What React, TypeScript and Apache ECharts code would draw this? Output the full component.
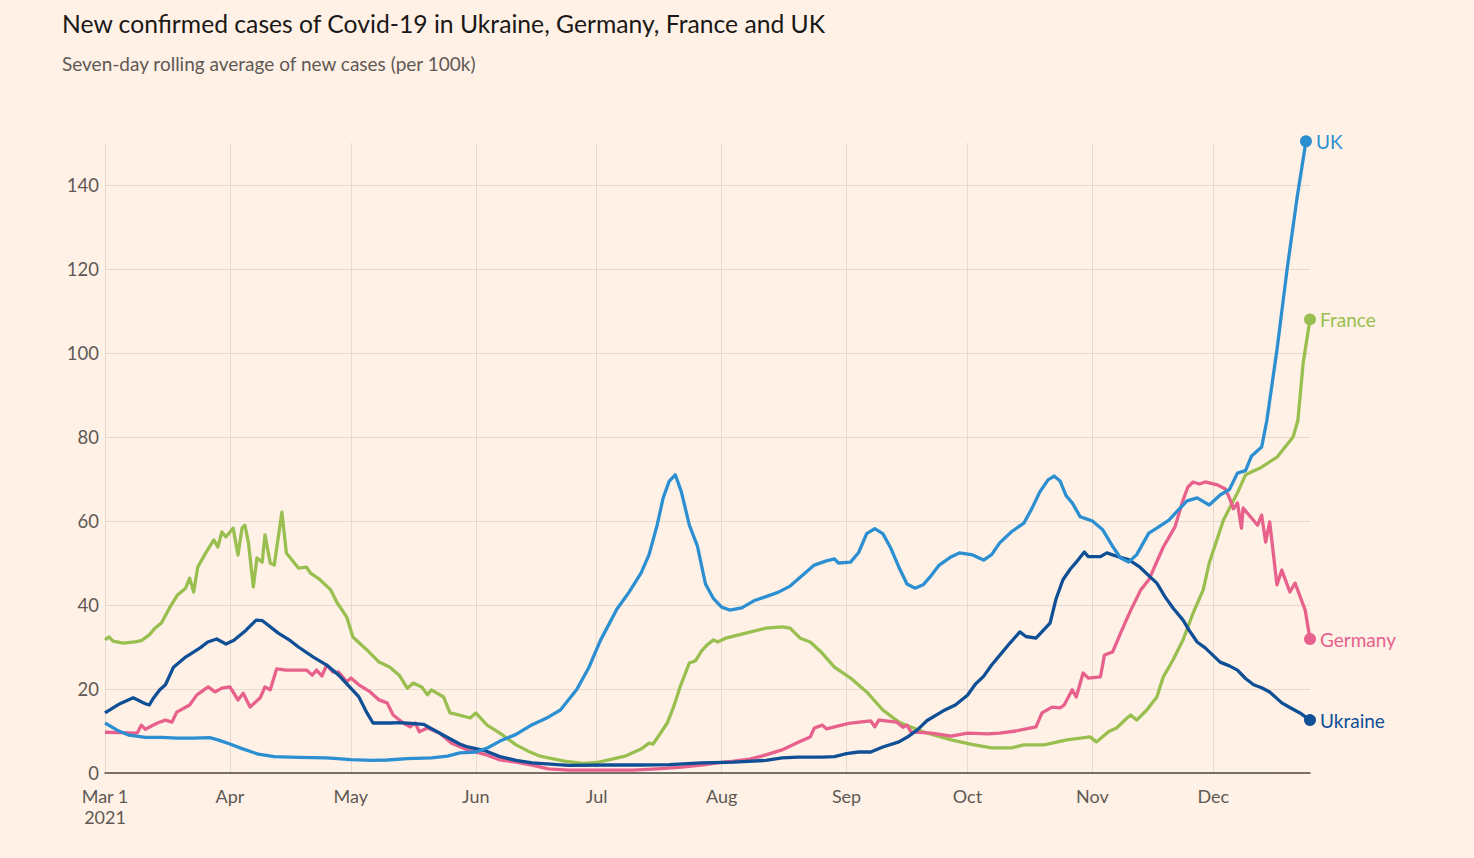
import React, { useEffect, useRef } from "react";
import * as echarts from "echarts";

// Day offsets are counted from 1 March 2021.
const monthDays = [0, 31, 61, 92, 122, 153, 184, 214, 245, 275];
const monthLabels = ["Mar 1\n2021", "Apr", "May", "Jun", "Jul", "Aug", "Sep", "Oct", "Nov", "Dec"];
const yTicks = [0, 20, 40, 60, 80, 100, 120, 140];

const ukraine: [number, number][] = [
  [0, 14.3], [3.7, 16.5], [7, 17.9], [10, 16.5], [11, 16.2], [12, 17.8], [13.6, 19.8], [15, 21.0], [17, 25.2],
  [20, 27.6], [23.6, 29.8], [25.5, 31.2], [27.7, 31.9], [30, 30.7], [32, 31.6], [35, 34.0], [37.5, 36.4], [39, 36.3],
  [43, 33.3], [46, 31.5], [48, 30.0], [51.7, 27.6], [55, 25.7], [58, 23.3], [60, 21.2], [63, 18.1], [65, 14.3],
  [66.5, 11.9], [70.7, 11.9], [73, 12.0], [76, 11.8], [79, 11.6], [84, 9.0], [88, 6.9], [90, 6.2], [94, 5.4],
  [98, 3.9], [102, 3.0], [106, 2.4], [115, 1.8], [125, 1.9], [133, 1.9], [140, 2.0], [148, 2.4], [156, 2.6],
  [164, 3.0], [168, 3.6], [172, 3.8], [178, 3.8], [181, 3.9], [184, 4.6], [187, 5.0], [190, 5.0], [193, 6.2],
  [197, 7.4], [199, 8.5], [201.5, 10.2], [204, 12.5], [208, 14.8], [211, 16.2], [214, 18.5], [216, 21.2], [218, 23.0],
  [220, 25.7], [222, 28.0], [224.6, 31.0], [226, 32.5], [227, 33.6], [228.5, 32.5], [231, 32.1], [234.5, 35.7],
  [236, 41.5], [237.7, 46.0], [239.5, 48.5], [241, 50.2], [243, 52.6], [244, 51.5], [247, 51.5], [248.6, 52.4],
  [251, 51.6], [254, 50.8], [256.8, 49.0], [259, 47.0], [261, 45.2], [263, 42.0], [265, 39.3], [267.5, 36.4],
  [269, 34.0], [271, 31.2], [273, 29.8], [276.7, 26.4], [279, 25.5], [281, 24.5], [283, 22.5], [285, 21.0],
  [287, 20.3], [289, 19.3], [292, 16.7], [294, 15.6], [296.5, 14.3], [299, 12.6],
];

const germany: [number, number][] = [
  [0, 9.7], [4, 9.6], [8, 9.5], [9, 11.4], [10, 10.4], [13, 11.9], [15, 12.6], [16.6, 12.1], [17.8, 14.5], [21, 16.2],
  [22.8, 18.6], [25.6, 20.5], [27.3, 19.3], [29, 20.2], [31, 20.5], [33, 17.4], [34.3, 19.0], [36, 15.7], [38.5, 17.9],
  [39.7, 20.5], [41, 19.8], [42.6, 24.8], [45, 24.5], [50, 24.5], [51.4, 23.3], [52.5, 24.5], [53.8, 23.1], [55, 25.7],
  [56.6, 24.0], [58, 24.0], [60, 21.7], [61, 22.6], [63, 21.0], [65.8, 19.3], [68, 17.4], [70, 16.7], [71.5, 13.8],
  [74, 11.9], [75.7, 11.0], [77, 11.9], [78, 9.8], [80, 10.7], [83, 9.5], [86, 7.1], [90, 5.5], [94.7, 4.3], [98, 3.1],
  [102, 2.6], [106, 1.9], [110, 1.0], [115, 0.7], [125, 0.7], [131, 0.7], [137, 1.0], [143, 1.4], [148, 1.9],
  [152, 2.4], [156, 2.8], [160, 3.3], [164, 4.3], [168, 5.5], [172, 7.3], [175, 8.6], [176, 10.7], [178, 11.4],
  [179, 10.5], [182, 11.2], [185, 11.9], [190, 12.4], [191, 11.0], [192, 12.6], [196.5, 12.1], [198, 10.9],
  [199, 11.4], [200, 9.8], [205, 9.5], [210, 8.8], [214, 9.5], [219, 9.3], [222, 9.5], [226, 10.0], [231, 11.0],
  [232.5, 14.3], [235, 15.7], [237, 15.5], [238, 16.2], [240, 19.8], [241, 18.1], [242.7, 23.8], [244, 22.6],
  [247, 22.9], [248, 28.1], [250, 28.8], [252, 33.3], [254.3, 38.3], [257, 43.6], [259, 46.0], [262.6, 53.8],
  [265.5, 58.6], [267.5, 65.0], [268.7, 68.1], [270, 69.3], [271.5, 68.8], [273, 69.3], [276, 68.6], [278, 67.6],
  [279, 65.5], [280, 62.9], [281, 64.3], [282, 58.3], [282.4, 63.1], [286, 59.0], [287, 61.4], [288, 55.0],
  [289, 59.8], [290.8, 44.8], [292, 48.3], [294, 43.1], [295.3, 45.2], [297.8, 38.8], [299, 31.9],
];

const france: [number, number][] = [
  [0, 31.7], [1, 32.4], [2, 31.4], [4.5, 30.9], [7.4, 31.2], [9, 31.5], [11, 32.9], [12.4, 34.5], [14, 35.7],
  [16, 39.3], [18, 42.4], [20, 44.0], [21, 46.4], [22, 43.1], [23, 49.0], [25, 52.4], [27, 55.5], [28, 53.8],
  [29, 57.4], [30, 56.2], [31.8, 58.3], [33, 51.9], [34, 58.3], [34.7, 59.0], [35.6, 54.8], [36.8, 44.3],
  [37.7, 51.2], [39, 50.2], [39.7, 56.7], [41, 50.0], [42, 49.5], [43.9, 62.1], [45, 52.4], [48, 48.8], [50, 49.0],
  [51, 47.6], [53, 46.3], [56, 43.6], [57.5, 40.7], [60, 37.1], [61.5, 32.4], [65, 29.3], [68, 26.4], [70.7, 25.2],
  [73, 23.3], [75, 20.2], [76.5, 21.4], [78.6, 20.5], [80, 18.6], [81, 19.8], [84, 18.1], [85.6, 14.3], [87, 14.0],
  [90.6, 13.1], [92, 14.3], [94.8, 11.4], [98, 9.5], [102, 6.7], [105, 5.2], [108, 4.0], [110, 3.6], [114, 2.8],
  [118.6, 2.3], [122, 2.5], [125, 3.1], [129, 4.0], [133, 5.7], [135, 7.1], [136, 6.9], [137.5, 9.0], [139.5, 11.9],
  [141, 15.5], [142.7, 20.5], [145, 26.2], [146.5, 26.7], [148, 29.0], [149.4, 30.5], [151, 31.7], [152, 31.2],
  [154, 32.1], [159, 33.3], [164, 34.5], [168, 34.8], [170, 34.5], [172.5, 32.1], [175, 31.2], [178, 28.5],
  [181, 25.2], [185, 22.6], [189, 19.3], [193, 15.0], [197, 12.1], [203, 9.8], [210, 7.9], [215, 6.8], [220, 6.0],
  [225, 6.0], [228, 6.7], [233, 6.7], [238.7, 7.9], [244.4, 8.6], [246, 7.4], [249, 9.8], [251, 10.7], [253.6, 13.1],
  [254.5, 13.8], [256, 12.6], [258.5, 15.0], [261, 18.1], [262.6, 22.9], [265, 26.9], [267.5, 31.7], [270, 38.1],
  [272.5, 43.6], [274, 50.0], [277.5, 60.2], [281, 66.7], [283, 71.0], [286.6, 72.6], [290.8, 75.2], [294.8, 80.0],
  [296, 84.0], [297.3, 97.6], [299, 108.0],
];

const uk: [number, number][] = [
  [0, 11.9], [3, 10.2], [6, 9.0], [10, 8.5], [14, 8.5], [18, 8.3], [22, 8.3], [26, 8.4], [28, 7.9], [31, 6.9],
  [34, 5.8], [38, 4.5], [42, 3.9], [48, 3.7], [55, 3.6], [61, 3.2], [66, 3.0], [70, 3.1], [75, 3.4], [81, 3.6],
  [85, 4.0], [88, 4.8], [92, 5.0], [95, 6.0], [98, 7.6], [102, 9.2], [106, 11.5], [110, 13.3], [113, 15.0],
  [117, 19.8], [120, 25.0], [123, 31.7], [127, 39.0], [130, 43.0], [133, 47.6], [135, 52.0], [137, 59.0],
  [138.5, 65.5], [140, 69.5], [141.5, 71.0], [143, 67.0], [145, 59.0], [147, 54.0], [149, 45.0], [151, 41.5],
  [153, 39.5], [155, 38.8], [158, 39.3], [161, 41.0], [164, 42.0], [167, 43.0], [170, 44.5], [173, 47.0],
  [176, 49.5], [179, 50.5], [181, 51.0], [182, 50.0], [185, 50.2], [187, 52.5], [189, 57.0], [191, 58.2],
  [193, 57.0], [195, 53.5], [197, 49.0], [199, 45.0], [201, 44.0], [203, 44.8], [205, 47.0], [207, 49.5],
  [210, 51.5], [212, 52.4], [215, 52.0], [218, 50.7], [220, 52.0], [222, 54.8], [225, 57.5], [228, 59.5],
  [230, 63.0], [232, 67.0], [234, 69.8], [235.5, 70.7], [237, 69.5], [238.5, 66.0], [240, 64.3], [242, 61.0],
  [243.5, 60.5], [245, 60.0], [247.5, 58.0], [250, 54.0], [252, 51.2], [254, 50.2], [256, 52.0], [259, 57.1],
  [261, 58.3], [264, 60.2], [266, 62.3], [268.5, 64.8], [271, 65.5], [274, 63.8], [276.7, 66.2], [279, 67.5],
  [281, 71.4], [283, 72.0], [284.5, 75.5], [287, 77.6], [288.3, 84.0], [290.8, 100.7], [293.3, 119.8],
  [295.8, 137.0], [298, 150.4],
];

const seriesDefs = [
  { name: "France", data: france, color: "#98bf4f" },
  { name: "Germany", data: germany, color: "#e8608c" },
  { name: "Ukraine", data: ukraine, color: "#0f4f96" },
  { name: "UK", data: uk, color: "#2b8fd2" },
];

const FONT = "Lato, 'Noto Sans', sans-serif";

export default function App() {
  const ref = useRef<HTMLDivElement>(null);

  useEffect(() => {
    document.body.style.margin = "0";
    const chart = echarts.init(ref.current!, null, { renderer: "svg" });
    const option: any = {
      animation: false,
      backgroundColor: "#fff1e5",
      textStyle: { fontFamily: FONT },
      graphic: [
        {
          type: "text",
          left: 62,
          top: 11,
          style: {
            text: "New confirmed cases of Covid-19 in Ukraine, Germany, France and UK",
            fontSize: 24.7,
            fontFamily: FONT,
            fill: "#1a1817",
          },
        },
        {
          type: "text",
          left: 62,
          top: 54,
          style: {
            text: "Seven-day rolling average of new cases (per 100k)",
            fontSize: 19,
            fontFamily: FONT,
            fill: "#5f5955",
          },
        },
      ],
      grid: { left: 105, right: 164, top: 143, bottom: 85, containLabel: false },
      xAxis: {
        type: "value",
        min: 0,
        max: 299,
        axisLine: { show: true, lineStyle: { color: "#4d4845", width: 1.5 } },
        axisTick: { show: false, customValues: monthDays },
        axisLabel: {
          customValues: monthDays,
          color: "#5f5955",
          fontSize: 18,
          fontFamily: FONT,
          lineHeight: 21,
          margin: 12,
          formatter: (v: number) => {
            const i = monthDays.indexOf(Math.round(v));
            return i >= 0 ? monthLabels[i] : "";
          },
        },
        splitLine: { show: true, lineStyle: { color: "#e6d9ce", width: 1 } },
      },
      yAxis: {
        type: "value",
        min: 0,
        max: 150,
        axisLine: { show: false },
        axisTick: { show: false, customValues: yTicks },
        axisLabel: {
          customValues: yTicks,
          color: "#5f5955",
          fontSize: 18.5,
          fontFamily: FONT,
          margin: 6,
        },
        splitLine: { show: true, lineStyle: { color: "#e6d9ce", width: 1 } },
      },
      series: seriesDefs.map((s) => ({
        type: "line",
        name: s.name,
        symbol: "none",
        showSymbol: true,
        clip: false,
        color: s.color,
        lineStyle: { width: 3.3, color: s.color, join: "round" },
        data: s.data.map((p, i) =>
          i === s.data.length - 1
            ? { value: p, symbol: "circle", symbolSize: 12, itemStyle: { color: s.color } }
            : p
        ),
        endLabel: {
          show: true,
          formatter: s.name,
          color: s.color,
          fontSize: 19,
          fontFamily: FONT,
          distance: 10,
        },
      })),
    };
    chart.setOption(option);
    return () => chart.dispose();
  }, []);

  return <div ref={ref} style={{ width: 1474, height: 858 }} />;
}
